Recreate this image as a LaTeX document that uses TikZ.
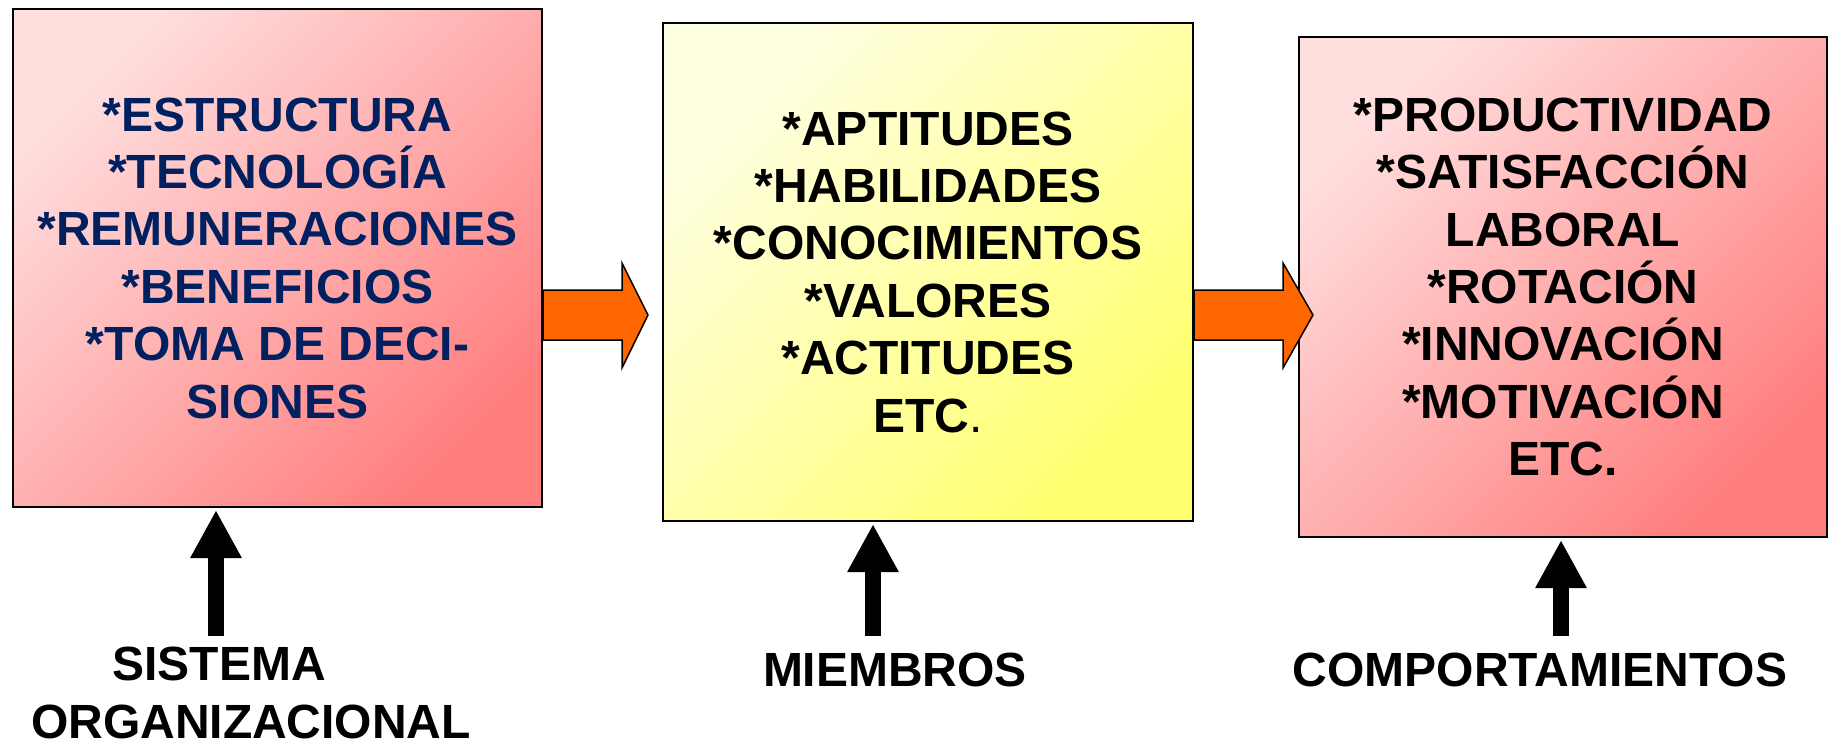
\documentclass[tikz,border=0pt]{standalone}
\usepackage{fontspec}
\setmainfont{Liberation Sans}
\usetikzlibrary{arrows.meta}
\definecolor{pinkL}{HTML}{FFDEDE}
\definecolor{pinkD}{HTML}{FF7F7F}
\definecolor{yelL}{HTML}{FFFFE2}
\definecolor{yelD}{HTML}{FFFF70}
\definecolor{navy}{HTML}{002060}
\definecolor{orng}{HTML}{FF6600}
\begin{document}
\begin{tikzpicture}[x=1pt,y=-1pt,
  box/.style={draw=black, line width=2pt, inner sep=0pt, align=center,
    font=\bfseries\fontsize{48}{57.4}\selectfont},
  pinkbox/.style={box, top color=pinkL, bottom color=pinkD, shading angle=45},
  yelbox/.style={box, top color=yelL, bottom color=yelD, shading angle=45},
  lbl/.style={inner sep=0pt, align=center, font=\bfseries\fontsize{48}{57.4}\selectfont},
  uparrow/.style={line width=16pt, -{Triangle[width=48pt,length=48pt]}, shorten >=2pt},
  blockarrow/.style={fill=orng, draw=black, line width=1.5pt, line join=miter}
]
\useasboundingbox (0,0) rectangle (1829,744);

\node[pinkbox, text=navy, minimum width=529pt, minimum height=498pt] (b1) at (277.5,258)
  {*ESTRUCTURA\\*TECNOLOGÍA\\*REMUNERACIONES\\*BENEFICIOS\\*TOMA DE DECI-\\SIONES};
\node[yelbox, minimum width=530pt, minimum height=498pt] (b2) at (928,272)
  {*APTITUDES\\*HABILIDADES\\*CONOCIMIENTOS\\*VALORES\\*ACTITUDES\\ETC{\mdseries.}};
\node[pinkbox, minimum width=528pt, minimum height=500pt] (b3) at (1563,287)
  {*PRODUCTIVIDAD\\*SATISFACCIÓN\\LABORAL\\*ROTACIÓN\\*INNOVACIÓN\\*MOTIVACIÓN\\ETC.};

% orange block arrows
\draw[blockarrow] (b1.east |- 0,290) -- (622,290) -- (622,263) -- (648,315)
  -- (622,368) -- (622,340) -- (b1.east |- 0,340) -- cycle;
\draw[blockarrow] (b2.east |- 0,290) -- (1283,290) -- (1283,263) -- (1313,315)
  -- (1283,368) -- (1283,340) -- (b2.east |- 0,340) -- cycle;

% labels
\node[lbl, anchor=north] (l1) at (251,647) {SISTEMA\hspace*{64pt}\\ORGANIZACIONAL};
\node[lbl, anchor=base] (l2) at (895,686) {MIEMBROS};
\node[lbl, anchor=base] (l3) at (1540,686) {COMPORTAMIENTOS};

% up arrows
\coordinate (s1) at (216,636);
\coordinate (s2) at (873,636);
\coordinate (s3) at (1561,636);
\draw[uparrow] (s1) -- (s1 |- b1.south);
\draw[uparrow] (s2) -- (s2 |- b2.south);
\draw[uparrow] (s3) -- (s3 |- b3.south);
\end{tikzpicture}
\end{document}
